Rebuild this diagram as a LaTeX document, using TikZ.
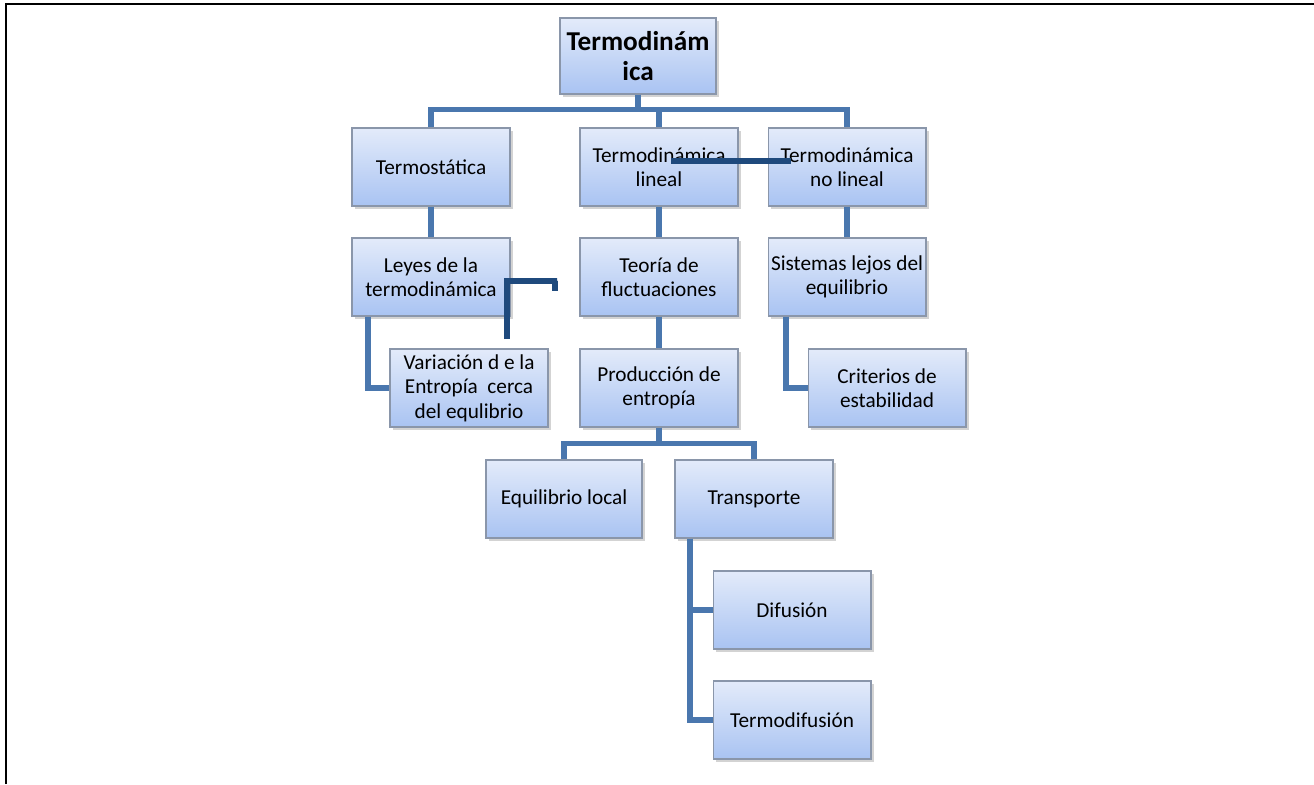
\documentclass[tikz,border=0pt]{standalone}
\usepackage{fontspec}
\setmainfont{Carlito}
\usetikzlibrary{calc,shadows}

\definecolor{boxtop}{HTML}{E3EBFA}
\definecolor{boxbot}{HTML}{A9C3F2}
\definecolor{boxedge}{HTML}{8A96AA}
\definecolor{linkblue}{HTML}{4A77AE}
\definecolor{navy}{HTML}{1F4A7D}

\tikzset{
  concept/.style={draw=boxedge, line width=0.6pt, top color=boxtop, bottom color=boxbot,
    minimum width=3.16cm, minimum height=1.56cm, inner sep=0pt, align=center,
    font=\fontsize{12.1}{13.9}\selectfont,
    drop shadow={shadow xshift=1.6pt, shadow yshift=-1.6pt, opacity=0.35, fill=gray}},
  link/.style={draw=linkblue, line width=3pt},
  stray/.style={draw=navy, line width=3.3pt}
}

\begin{document}
\begin{tikzpicture}[x=0.02cm, y=-0.02cm]
    \useasboundingbox (0, 0) rectangle (1314, 784);
    \draw [line width=1.5pt]  (6, 784) -- (6, 4) -- (1314, 4);
    % root
    \node [concept, minimum width=3.12cm, minimum height=1.52cm,
           font=\fontsize{15.5}{17.5}\selectfont\bfseries] (root) at (638, 56) {Termodinám\\ica};
    % first level
    \node [concept] (termo)    at (431, 167) {Termostática};
    \node [concept] (lineal)   at (659, 167) {Termodinámica\\lineal};
    \node [concept] (nolineal) at (847, 167) {Termodinámica\\no lineal};
    % second level
    \node [concept] (leyes)    at (431, 277) {Leyes de la\\termodinámica};
    \node [concept] (teoria)   at (659, 277) {Teoría de\\fluctuaciones};
    \node [concept] (sistemas) at (847, 277) {Sistemas lejos del\\equilibrio};
    % third level
    \node [concept] (variacion)  at (469, 388) {Variación d e la\\Entropía\ \ cerca\\del equlibrio};
    \node [concept] (produccion) at (659, 388) {Producción de\\entropía};
    \node [concept] (criterios)  at (887, 388) {Criterios de\\estabilidad};
    % fourth level
    \node [concept, minimum width=3.12cm] (eqlocal) at (564, 499) {Equilibrio local};
    \node [concept] (transporte) at (754, 499) {Transporte};
    \node [concept] (difusion)   at (792, 610) {Difusión};
    \node [concept] (termodif)   at (792, 720) {Termodifusión};
    % links
    \draw [link] (root.south) -- ++(0, 15) -| (termo.north);
    \draw [link] (root.south) -- ++(0, 15) -| (lineal.north);
    \draw [link] (root.south) -- ++(0, 15) -| (nolineal.north);
    \draw [link] (termo)    -- (leyes);
    \draw [link] (lineal)   -- (teoria);
    \draw [link] (nolineal) -- (sistemas);
    \draw [link] (teoria)   -- (produccion);
    \draw [link] ($(leyes.south)+(-63, 0)$)    |- (variacion.west);
    \draw [link] ($(sistemas.south)+(-61, 0)$) |- (criterios.west);
    \draw [link] (produccion.south) -- ++(0, 16) -| (eqlocal.north);
    \draw [link] (produccion.south) -- ++(0, 16) -| (transporte.north);
    \draw [link] ($(transporte.south)+(-64, 0)$) |- (difusion.west);
    \draw [link] ($(transporte.south)+(-64, 0)$) |- (termodif.west);
    % stray strokes
    \coordinate (s1) at (671, 161);
    \coordinate (s2) at (791, 161);
    \draw [stray] (s1) -- (s2);
    \coordinate (l1) at (507, 339);
    \coordinate (l2) at (555, 291);
    \draw [stray] (l1) |- (557, 281) -- ++(-2, 0) -- (l2);
\end{tikzpicture}
\end{document}
